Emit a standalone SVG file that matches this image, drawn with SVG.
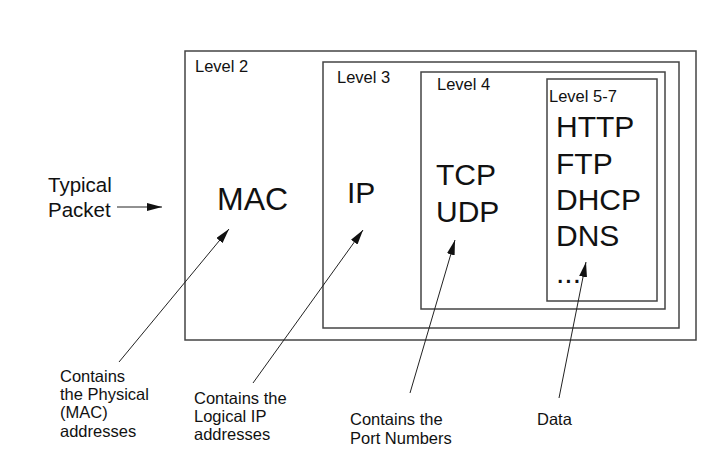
<svg xmlns="http://www.w3.org/2000/svg" width="708" height="451" viewBox="0 0 708 451">
<style>
text{font-family:"Liberation Sans",Arial,sans-serif;fill:#111}
.box{fill:none;stroke:#444;stroke-width:1.5}
.lvl{font-size:16.5px}
.big{font-size:30px}
.mid{font-size:20.5px}
.lab{font-size:16.5px}
.con{stroke:#222;stroke-width:1;fill:none}
</style>
<defs>
<marker id="ah" viewBox="0 0 15 8" refX="15" refY="4" markerWidth="15" markerHeight="8" markerUnits="userSpaceOnUse" orient="auto">
<path d="M0,0 L15,4 L0,8 Z" fill="#111"/>
</marker>
</defs>
<rect width="708" height="451" fill="#fff"/>
<g id="level2">
<rect class="box" x="185" y="51" width="511" height="289"/>
<text class="lvl" x="195" y="72">Level 2</text>
<text class="big" x="217" y="210" style="font-size:32px">MAC</text>
</g>
<g id="level3">
<rect class="box" x="323" y="62" width="356" height="266"/>
<text class="lvl" x="337" y="83">Level 3</text>
<text class="big" x="347" y="203">IP</text>
</g>
<g id="level4">
<rect class="box" x="421" y="72" width="244" height="237"/>
<text class="lvl" x="437" y="90">Level 4</text>
<text class="big" x="436" y="185">TCP</text>
<text class="big" x="436" y="222">UDP</text>
</g>
<g id="level5-7">
<rect class="box" x="547" y="79" width="110" height="222"/>
<text class="lvl" x="549" y="102">Level 5-7</text>
<text class="big" x="556" y="137">HTTP</text>
<text class="big" x="556" y="174">FTP</text>
<text class="big" x="556" y="210">DHCP</text>
<text class="big" x="556" y="246">DNS</text>
<text class="big" x="556" y="283">...</text>
</g>
<g id="typical-packet">
<text class="mid" x="48" y="192">Typical</text>
<text class="mid" x="48" y="217">Packet</text>
</g>
<g id="label-mac">
<text class="lab" x="60" y="382">Contains</text>
<text class="lab" x="60" y="400">the Physical</text>
<text class="lab" x="60" y="418">(MAC)</text>
<text class="lab" x="60" y="437">addresses</text>
</g>
<g id="label-ip">
<text class="lab" x="194" y="404">Contains the</text>
<text class="lab" x="194" y="422">Logical IP</text>
<text class="lab" x="194" y="440">addresses</text>
</g>
<g id="label-port">
<text class="lab" x="350" y="425">Contains the</text>
<text class="lab" x="350" y="444">Port Numbers</text>
</g>
<g id="label-data">
<text class="lab" x="537" y="425">Data</text>
</g>
<g id="connectors">
<line class="con" x1="117" y1="207" x2="162" y2="207" marker-end="url(#ah)"/>
<line class="con" x1="119" y1="362" x2="229" y2="229" marker-end="url(#ah)"/>
<line class="con" x1="253" y1="383" x2="363" y2="230" marker-end="url(#ah)"/>
<line class="con" x1="410" y1="393" x2="455" y2="240" marker-end="url(#ah)"/>
<line class="con" x1="559" y1="398" x2="586" y2="262" marker-end="url(#ah)"/>
</g>
</svg>
